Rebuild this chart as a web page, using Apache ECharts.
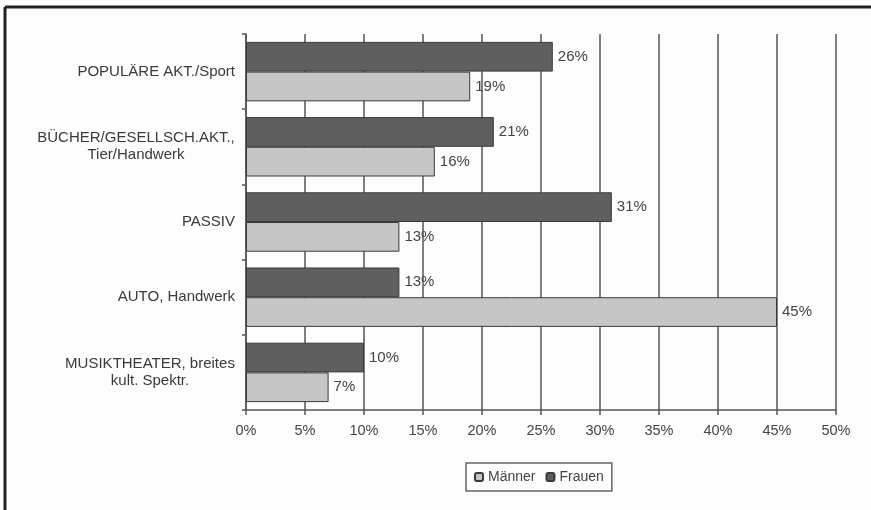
<!DOCTYPE html>
<html>
<head>
<meta charset="utf-8">
<script src="https://cdn.jsdelivr.net/npm/echarts@6/dist/echarts.min.js"></script>
<style>
html,body{margin:0;padding:0;background:#fdfdfd;}
#chart{width:871px;height:510px;}
</style>
</head>
<body>
<div id="chart"></div>
<script>
const categories = [
  'POPULÄRE AKT./Sport',
  'BÜCHER/GESELLSCH.AKT.,\nTier/Handwerk',
  'PASSIV',
  'AUTO, Handwerk',
  'MUSIKTHEATER, breites\nkult. Spektr.'
];
const frauen = [26, 21, 31, 13, 10];
const maenner = [19, 16, 13, 45, 7];
const xTicks = [0, 5, 10, 15, 20, 25, 30, 35, 40, 45, 50];

const FONT = '"Liberation Sans", Arial, sans-serif';
const CAT_SIZE = 15;
const canvas = document.createElement('canvas');
const ctx = canvas.getContext('2d');
ctx.font = CAT_SIZE + 'px ' + FONT;
const rich = {};
categories.forEach((c, i) => {
  const lines = c.split('\n');
  const w = Math.max.apply(null, lines.map(l => ctx.measureText(l).width));
  rich['c' + i] = {width: Math.ceil(w), align: 'center', fontSize: CAT_SIZE, color: '#3a3a3a', lineHeight: 17, fontFamily: FONT};
});
function catFormatter(v) {
  const i = categories.indexOf(v);
  const lines = v.split('\n');
  if (lines.length === 1) return v;
  return lines.map(l => '{c' + i + '|' + l + '}').join('\n');
}

const chart = echarts.init(document.getElementById('chart'), null, {renderer: 'canvas'});
const option = {
  backgroundColor: '#fdfdfd',
  animation: false,
  textStyle: {fontFamily: FONT},
  grid: {left: 246, right: 35, top: 34, bottom: 100, containLabel: false},
  legend: {
    data: ['Männer', 'Frauen'],
    top: 463,
    left: 466,
    itemWidth: 8,
    itemHeight: 8,
    itemGap: 10,
    padding: [7, 8, 7, 8],
    borderColor: '#666',
    borderWidth: 1.5,
    textStyle: {fontSize: 14, color: '#444', fontFamily: FONT}
  },
  xAxis: {
    type: 'value',
    min: xTicks[0],
    max: xTicks[xTicks.length - 1],
    interval: 5,
    axisLine: {show: true, lineStyle: {color: '#555', width: 1.5}},
    axisTick: {show: true, length: 5, lineStyle: {color: '#555', width: 1.5}},
    axisLabel: {fontSize: 14.5, color: '#444', margin: 13, formatter: v => v + '%'},
    splitLine: {show: true, lineStyle: {color: '#555', width: 1.5}}
  },
  yAxis: {
    type: 'category',
    data: categories,
    inverse: true,
    axisLine: {show: true, lineStyle: {color: '#555', width: 1.5}},
    axisTick: {show: true, length: 4, lineStyle: {color: '#555', width: 1.5}},
    axisLabel: {
      fontSize: CAT_SIZE, color: '#3a3a3a', margin: 11, lineHeight: 17,
      formatter: catFormatter,
      rich: rich
    }
  },
  series: [
    {
      name: 'Frauen', type: 'bar', data: frauen,
      barGap: '0%', barCategoryGap: '21%',
      itemStyle: {color: '#5f5f5f', borderColor: '#3a3a3a', borderWidth: 1},
      label: {show: true, position: 'right', distance: 5, fontSize: 15, color: '#444', formatter: p => p.value + '%'}
    },
    {
      name: 'Männer', type: 'bar', data: maenner,
      barGap: '0%', barCategoryGap: '21%',
      itemStyle: {color: '#c6c6c6', borderColor: '#3a3a3a', borderWidth: 1},
      label: {show: true, position: 'right', distance: 5, fontSize: 15, color: '#444', formatter: p => p.value + '%'}
    }
  ],
  graphic: [
    {type: 'line', shape: {x1: 5, y1: 7, x2: 5, y2: 510}, style: {stroke: '#222', lineWidth: 3}},
    {type: 'line', shape: {x1: 5, y1: 7, x2: 871, y2: 7}, style: {stroke: '#222', lineWidth: 3}}
  ]
};
chart.setOption(option);
</script>
</body>
</html>
